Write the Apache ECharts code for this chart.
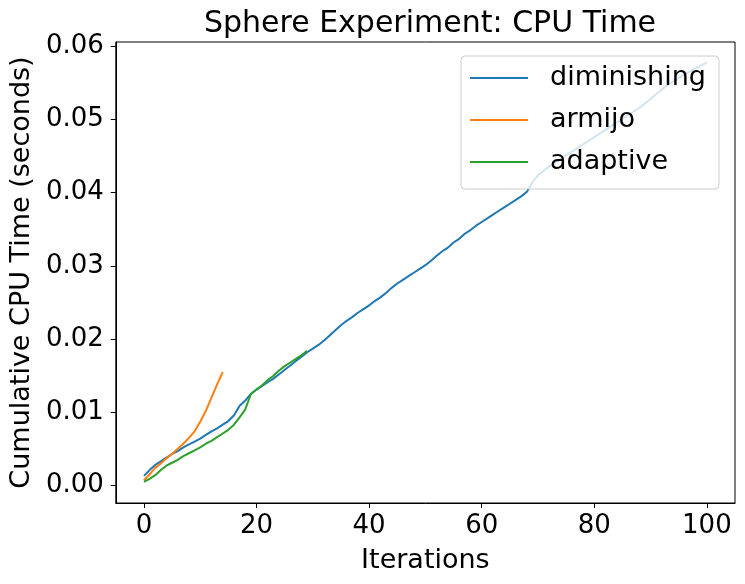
<!DOCTYPE html>
<html>
<head>
<meta charset="utf-8">
<script src="https://cdn.jsdelivr.net/npm/echarts@6/dist/echarts.min.js"></script>
<style>
  html, body { margin: 0; padding: 0; background: #fff; }
  #chart { width: 745px; height: 584px; }
</style>
</head>
<body>
<div id="chart"></div>
<script>
// cumulative cpu time per iteration (index = iteration)
var diminishing = [
  0.0013, 0.0021, 0.0028, 0.0033, 0.0038, 0.0043, 0.0047, 0.0052, 0.0056, 0.0060,
  0.0064, 0.0069, 0.0074, 0.0078, 0.0083, 0.0088, 0.0096, 0.0109, 0.0116, 0.0125,
  0.0131, 0.0136, 0.0141, 0.0146, 0.0152, 0.0158, 0.0164, 0.0170, 0.0176, 0.0182,
  0.0187, 0.0192, 0.0198, 0.0205, 0.0212, 0.0219, 0.0225, 0.0230, 0.0236, 0.0241,
  0.0246, 0.0252, 0.0257, 0.0263, 0.0270, 0.0276, 0.0281, 0.0286, 0.0291, 0.0296,
  0.0301, 0.0307, 0.0314, 0.0320, 0.0325, 0.0332, 0.0337, 0.0344, 0.0349, 0.0355,
  0.0360, 0.0365, 0.0370, 0.0375, 0.0380, 0.0385, 0.0390, 0.0395, 0.0401, 0.0414,
  0.0424, 0.0430, 0.0436, 0.0441, 0.0446, 0.0451, 0.0456, 0.0461, 0.0466, 0.0471,
  0.0476, 0.0481, 0.0486, 0.0491, 0.0496, 0.0501, 0.0506, 0.0511, 0.0516, 0.0522,
  0.0528, 0.0535, 0.0541, 0.0547, 0.0552, 0.0557, 0.0561, 0.0566, 0.0570, 0.0574,
  0.0578
];
var armijo = [
  0.0007, 0.0015, 0.0024, 0.0030, 0.0037, 0.0043, 0.0050, 0.0057, 0.0065, 0.0074,
  0.0087, 0.0102, 0.0120, 0.0138, 0.0155
];
var adaptive = [
  0.0005, 0.0009, 0.0014, 0.0021, 0.0027, 0.0031, 0.0035, 0.0040, 0.0044, 0.0048,
  0.0052, 0.0057, 0.0061, 0.0066, 0.0071, 0.0076, 0.0083, 0.0093, 0.0104, 0.0125,
  0.0131, 0.0137, 0.0144, 0.0150, 0.0157, 0.0163, 0.0168, 0.0173, 0.0178, 0.0184
];
var xTicks = [0, 20, 40, 60, 80, 100];
var yTicks = [0, 0.01, 0.02, 0.03, 0.04, 0.05, 0.06];

var names = ["diminishing", "armijo", "adaptive"];
var colors = ["#1f77b4", "#ff7f0e", "#2ca02c"];
var font = "DejaVu Sans";

function pairs(arr) {
  var out = [];
  for (var i = 0; i < arr.length; i++) out.push([i, arr[i]]);
  return out;
}

var seriesData = [diminishing, armijo, adaptive];
var series = [];
for (var i = 0; i < seriesData.length; i++) {
  series.push({
    name: names[i],
    type: "line",
    data: pairs(seriesData[i]),
    showSymbol: false,
    symbol: "none",
    lineStyle: {width: 2, color: colors[i]},
    itemStyle: {color: colors[i]},
    animation: false
  });
}

var chart = echarts.init(document.getElementById("chart"));
chart.setOption({
  backgroundColor: "#fff",
  animation: false,
  title: {
    text: "Sphere Experiment: CPU Time",
    left: 425,
    top: 4,
    textAlign: "center",
    textStyle: {fontFamily: font, fontSize: 30, fontWeight: "normal", color: "#000"}
  },
  grid: {
    left: 115, right: 10, top: 42, bottom: 81,
    show: true, borderColor: "#000", borderWidth: 1, backgroundColor: "transparent"
  },
  legend: {
    data: names,
    orient: "vertical",
    left: 461,
    top: 56,
    padding: [7, 13, 12, 9],
    icon: "rect",
    itemWidth: 58,
    itemHeight: 2,
    itemGap: 12,
    backgroundColor: "rgba(255,255,255,0.8)",
    borderColor: "#cccccc",
    borderWidth: 1,
    borderRadius: 4,
    textStyle: {fontFamily: font, fontSize: 27, color: "#000", lineHeight: 30, padding: [0, 0, 0, 17]}
  },
  xAxis: {
    type: "value",
    min: -5,
    max: 105,
    name: "Iterations",
    nameLocation: "middle",
    nameGap: 44,
    nameTextStyle: {fontFamily: font, fontSize: 27, color: "#000"},
    axisLine: {show: true, onZero: false, lineStyle: {color: "#000", width: 1}},
    axisTick: {show: true, length: 5, lineStyle: {color: "#000"}, customValues: xTicks},
    axisLabel: {fontFamily: font, fontSize: 26, color: "#000", margin: 10, customValues: xTicks},
    splitLine: {show: false}
  },
  yAxis: {
    type: "value",
    min: -0.0024,
    max: 0.0606,
    name: "Cumulative CPU Time (seconds)",
    nameLocation: "middle",
    nameGap: 80,
    nameTextStyle: {fontFamily: font, fontSize: 27, color: "#000"},
    axisLine: {show: true, onZero: false, lineStyle: {color: "#000", width: 1}},
    axisTick: {show: true, length: 5, lineStyle: {color: "#000"}, customValues: yTicks},
    axisLabel: {
      fontFamily: font, fontSize: 26, color: "#000", margin: 12, customValues: yTicks,
      formatter: function (v) { return v.toFixed(2); }
    },
    splitLine: {show: false}
  },
  series: series
});
</script>
</body>
</html>
